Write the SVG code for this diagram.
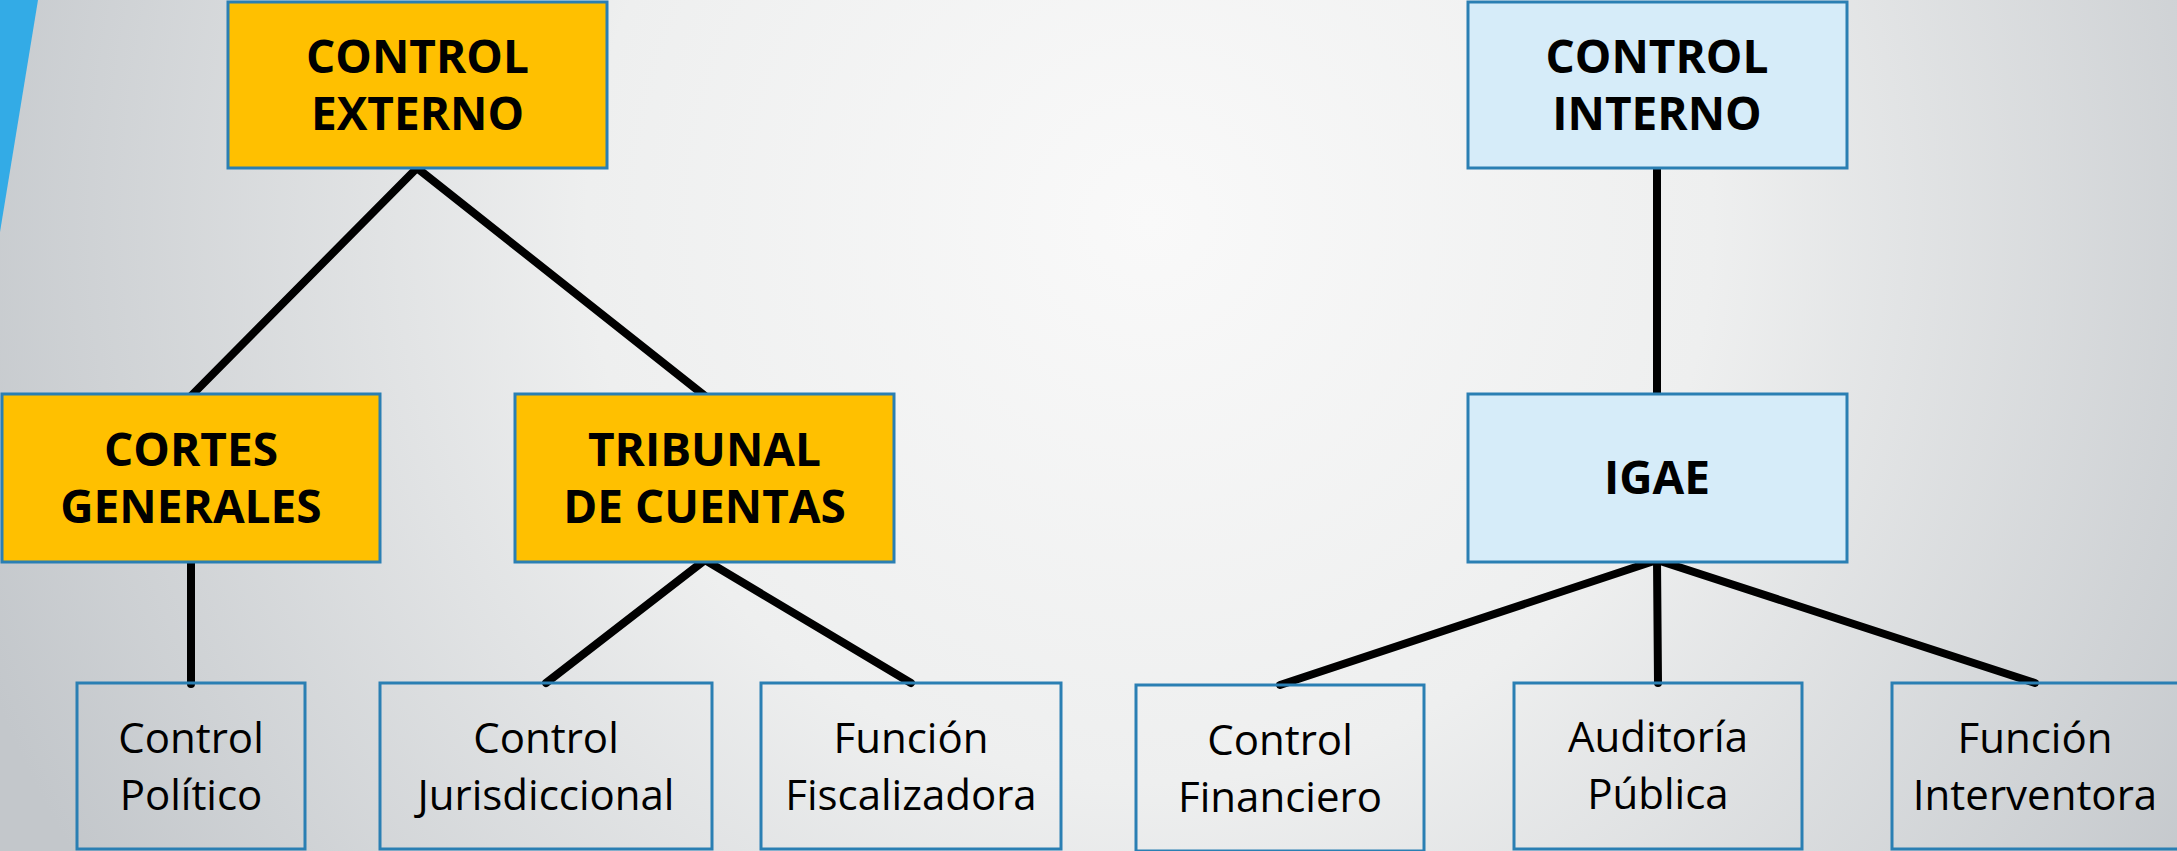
<svg xmlns="http://www.w3.org/2000/svg" width="2177" height="851" viewBox="0 0 2177 851">
<defs>
<radialGradient id="bg" cx="1150" cy="220" r="1250" gradientUnits="userSpaceOnUse">
<stop offset="0" stop-color="#f9f9f9"/>
<stop offset="0.45" stop-color="#eeefef"/>
<stop offset="1" stop-color="#c3c7cb"/>
</radialGradient>
<style>
.box{stroke:#2a7fb3;stroke-width:3}
.y{fill:#ffc000}
.b{fill:#d6ecf9}
.t{fill:none}
.hb{font-family:"Open Sans","Noto Sans",sans-serif;font-weight:bold;font-size:46px;fill:#000;text-anchor:middle}
.rg{font-family:"Open Sans","Noto Sans",sans-serif;font-size:42px;fill:#000;text-anchor:middle}
.ln{stroke:#000;stroke-width:8;stroke-linecap:round;fill:none}
</style>
</defs>
<rect x="0" y="0" width="2177" height="851" fill="url(#bg)"/>
<polygon points="0,0 38,0 0,232" fill="#33abe6"/>
<g id="connectors">
<line class="ln" x1="417" y1="168" x2="191" y2="396"/>
<line class="ln" x1="417" y1="168" x2="705" y2="396"/>
<line class="ln" x1="191" y1="560" x2="191" y2="684"/>
<line class="ln" x1="705" y1="560" x2="546" y2="683"/>
<line class="ln" x1="705" y1="560" x2="911" y2="683"/>
<line class="ln" x1="1657" y1="168" x2="1657" y2="396"/>
<line class="ln" x1="1657" y1="560" x2="1280" y2="685"/>
<line class="ln" x1="1657" y1="560" x2="1658" y2="683"/>
<line class="ln" x1="1657" y1="560" x2="2035" y2="683"/>
</g>
<g id="control-externo">
<rect class="box y" x="228" y="2" width="379" height="166"/>
<text class="hb" x="417.5" y="73">CONTROL</text>
<text class="hb" x="417.5" y="130">EXTERNO</text>
</g>
<g id="control-interno">
<rect class="box b" x="1468" y="2" width="379" height="166"/>
<text class="hb" x="1657" y="73">CONTROL</text>
<text class="hb" x="1657" y="130">INTERNO</text>
</g>
<g id="cortes-generales">
<rect class="box y" x="2" y="394" width="378" height="168"/>
<text class="hb" x="191" y="466">CORTES</text>
<text class="hb" x="191" y="523">GENERALES</text>
</g>
<g id="tribunal-cuentas">
<rect class="box y" x="515" y="394" width="379" height="168"/>
<text class="hb" x="704.5" y="466">TRIBUNAL</text>
<text class="hb" x="704.5" y="523">DE CUENTAS</text>
</g>
<g id="igae">
<rect class="box b" x="1468" y="394" width="379" height="168"/>
<text class="hb" x="1657" y="494">IGAE</text>
</g>
<g id="control-politico">
<rect class="box t" x="77" y="683" width="228" height="166"/>
<text class="rg" x="191" y="753">Control</text>
<text class="rg" x="191" y="810">Político</text>
</g>
<g id="control-jurisdiccional">
<rect class="box t" x="380" y="683" width="332" height="166"/>
<text class="rg" x="546" y="753">Control</text>
<text class="rg" x="546" y="810">Jurisdiccional</text>
</g>
<g id="funcion-fiscalizadora">
<rect class="box t" x="761" y="683" width="300" height="166"/>
<text class="rg" x="911" y="753">Función</text>
<text class="rg" x="911" y="810">Fiscalizadora</text>
</g>
<g id="control-financiero">
<rect class="box t" x="1136" y="685" width="288" height="166"/>
<text class="rg" x="1280" y="755">Control</text>
<text class="rg" x="1280" y="812">Financiero</text>
</g>
<g id="auditoria-publica">
<rect class="box t" x="1514" y="683" width="288" height="166"/>
<text class="rg" x="1658" y="752">Auditoría</text>
<text class="rg" x="1658" y="809">Pública</text>
</g>
<g id="funcion-interventora">
<rect class="box t" x="1892" y="683" width="290" height="166"/>
<text class="rg" x="2035" y="753">Función</text>
<text class="rg" x="2035" y="810">Interventora</text>
</g>
</svg>
